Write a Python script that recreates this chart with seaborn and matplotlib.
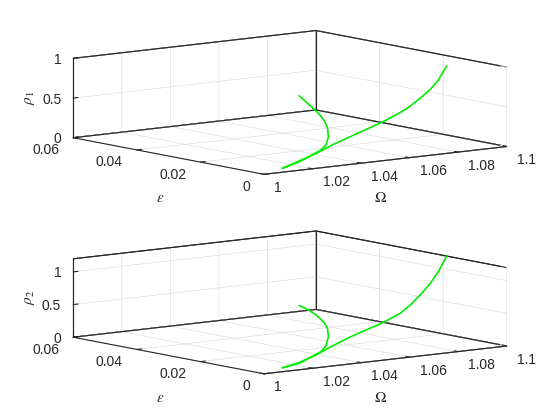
import numpy as np
import matplotlib
matplotlib.use("Agg")
import matplotlib.pyplot as plt
import seaborn as sns
from mpl_toolkits.mplot3d import proj3d

# solution branch A (Omega, epsilon, rho1, rho2)
omega_a = [1.0128, 1.0222, 1.0310, 1.0399, 1.0487, 1.0576, 1.0664, 1.0752,
           1.0806, 1.0858, 1.0912, 1.0956, 1.1000]
eps_a = [0.0040, 0.0056, 0.0071, 0.0086, 0.0101, 0.0117, 0.0132, 0.0147,
         0.0156, 0.0165, 0.0174, 0.0181, 0.0189]
rho1_a = [0.000, 0.052, 0.101, 0.172, 0.225, 0.276, 0.329, 0.398,
          0.455, 0.527, 0.613, 0.715, 0.869]
rho2_a = [0.000, 0.031, 0.096, 0.184, 0.261, 0.320, 0.379, 0.465,
          0.560, 0.680, 0.830, 0.990, 1.200]

# solution branch B
omega_b = [1.0128, 1.0219, 1.0337, 1.0377, 1.0407, 1.0423, 1.0428, 1.0423,
           1.0415, 1.0395, 1.0369]
eps_b = [0.0040, 0.0054, 0.0078, 0.0093, 0.0108, 0.0123, 0.0135, 0.0144,
         0.0153, 0.0162, 0.0171]
rho1_b = [0.000, 0.043, 0.128, 0.165, 0.244, 0.337, 0.409, 0.475,
          0.533, 0.623, 0.729]
rho2_b = [0.000, 0.022, 0.123, 0.179, 0.291, 0.393, 0.459, 0.519,
          0.582, 0.658, 0.729]

omega_ticks = [1, 1.02, 1.04, 1.06, 1.08, 1.1]
eps_ticks = [0, 0.02, 0.04, 0.06]
rho_ticks = [0, 0.5, 1]

sns.set_theme(style="white")
plt.rcParams["font.family"] = ["Liberation Sans", "DejaVu Sans"]
plt.rcParams["mathtext.fontset"] = "stix"

W_PX, H_PX = 560, 420
fig = plt.figure(figsize=(W_PX / 100, H_PX / 100), dpi=100)
fig.patch.set_facecolor("white")

LINE = "#00ee00"
EDGE = "#262626"
TXT = "#262626"


def setup(ax, zmax, zaspect):
    ax.set_facecolor("none")
    ax.computed_zorder = False
    ax.set_proj_type("ortho")
    ax.view_init(elev=8.52, azim=-127.7)
    ax.set_box_aspect((306.7, 311.9, zaspect))
    ax.set_xlim(1, 1.1)
    ax.set_ylim(0, 0.06)
    ax.set_zlim(0, zmax)
    ax.set_xticks(omega_ticks)
    ax.set_yticks(eps_ticks)
    ax.set_zticks(rho_ticks)
    for axis in (ax.xaxis, ax.yaxis, ax.zaxis):
        axis.set_tick_params(label1On=False, label2On=False)
        axis.set_pane_color((1, 1, 1, 1))
        axis.pane.set_edgecolor(EDGE)
        axis.pane.set_linewidth(0.8)
        axis.line.set_color(EDGE)
        axis.line.set_linewidth(0.8)
        axis._axinfo["grid"].update(color=(0.87, 0.87, 0.87, 1), linewidth=0.5)
        axis._axinfo["tick"].update(inward_factor=0.0, outward_factor=0.25,
                                     linewidth={True: 0.8, False: 0.5})
        axis._axinfo["tick"]["color"] = EDGE
    ax.grid(True)

    # back edges of the box, drawn over the grid
    kw = dict(color=EDGE, lw=0.8)
    ax.plot([1, 1], [0.06, 0.06], [0, zmax], **kw)
    ax.plot([1.1, 1.1], [0.06, 0.06], [0, zmax], **kw)
    ax.plot([1.1, 1.1], [0, 0], [0, zmax], **kw)
    for z in (0, zmax):
        ax.plot([1, 1.1, 1.1], [0.06, 0.06, 0], [z, z, z], **kw)


def to_px(ax, x, y, z):
    xs, ys, _ = proj3d.proj_transform(x, y, z, ax.get_proj())
    return ax.transData.transform((xs, ys))


def fit(ax, zmax, target):
    # move/scale the square 3D box so its corners land where the reference has them
    fig.canvas.draw()
    P = np.array([to_px(ax, 1.0, 0.0, 0.0), to_px(ax, 1.0, 0.06, zmax),
                  to_px(ax, 1.1, 0.0, 0.0)])
    T = np.array([(tx, H_PX - ty) for tx, ty in target])
    k = np.linalg.norm(T[2] - T[1]) / np.linalg.norm(P[2] - P[1])
    bb = ax.get_position()
    c = np.array([(bb.x0 + bb.width / 2) * W_PX, (bb.y0 + bb.height / 2) * H_PX])
    S = bb.width * W_PX
    c_new = T[0] - k * (P[0] - c)
    S_new = k * S
    ax.set_position([(c_new[0] - S_new / 2) / W_PX, (c_new[1] - S_new / 2) / H_PX,
                     S_new / W_PX, S_new / H_PX])


def tick_labels(ax):
    # MATLAB-like tick labels next to the projected tick positions
    fig.canvas.draw()
    kw = dict(fontsize=10, color=TXT, va="center_baseline")
    for t in omega_ticks:
        p = to_px(ax, t, 0, 0)
        fig.text((p[0] + 10) / W_PX, (p[1] - 12) / H_PX, "%g" % t, ha="left", **kw)
    for t in eps_ticks:
        p = to_px(ax, 1, t, 0)
        fig.text((p[0] - 14) / W_PX, (p[1] - 11) / H_PX, "%g" % t, ha="right", **kw)
    for t in rho_ticks:
        p = to_px(ax, 1, 0.06, t)
        fig.text((p[0] - 12) / W_PX, p[1] / H_PX, "%g" % t, ha="right", **kw)


ax1 = fig.add_subplot(2, 1, 1, projection="3d")
setup(ax1, 1.0, 80.3)
ax1.plot(omega_a, eps_a, rho1_a, color=LINE, lw=1.2)
ax1.plot(omega_b, eps_b, rho1_b, color=LINE, lw=1.2)

ax2 = fig.add_subplot(2, 1, 2, projection="3d")
setup(ax2, 1.2, 79.3)
ax2.plot(omega_a, eps_a, rho2_a, color=LINE, lw=1.2)
ax2.plot(omega_b, eps_b, rho2_b, color=LINE, lw=1.2)

fit(ax1, 1.0, [(264, 174.3), (73.3, 58.3), (506.7, 146.5)])
fit(ax2, 1.2, [(264, 373.8), (73.3, 258.3), (506.7, 346.0)])
tick_labels(ax1)
tick_labels(ax2)

# axis labels
lab = dict(fontsize=11, color=TXT, ha="center", va="center")
for y0, zl, zy in ((198.3, r"$\rho_1$", 98.0), (397.8, r"$\rho_2$", 297.5)):
    fig.text(160 / W_PX, 1 - y0 / H_PX, r"$\epsilon$", **lab)
    fig.text(380 / W_PX, 1 - y0 / H_PX, r"$\Omega$", **lab)
    fig.text(30 / W_PX, 1 - zy / H_PX, zl, rotation=90, **lab)

fig.savefig("out.png", dpi=100, facecolor="white")
